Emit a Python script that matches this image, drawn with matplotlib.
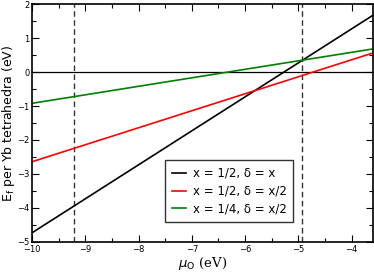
import numpy as np
import matplotlib
matplotlib.use('Agg')
import matplotlib.pyplot as plt
from matplotlib.ticker import MultipleLocator

# mu_O end points and line parameters (slope, intercept)
mu = np.array([-10.0, -3.6])
labels = ['x = 1/2, δ = x', 'x = 1/2, δ = x/2', 'x = 1/4, δ = x/2']
slopes = [1.0, 0.5, 0.25]
intercepts = [5.27, 2.36, 1.58]
colors = ['black', 'red', 'green']
vlines = [-9.22, -4.93]

fig = plt.figure(figsize=(3.74, 2.73), dpi=100)
ax = fig.add_axes([0.086, 0.114, 0.911, 0.871])

ax.axhline(0, color='black', lw=0.9)
for x in vlines:
    ax.axvline(x, color='#333333', lw=1.0, ls=(0, (4, 2.5)))

for s, b, c, l in zip(slopes, intercepts, colors, labels):
    ax.plot(mu, s * mu + b, color=c, lw=1.2, label=l)

ax.set_xlim(-10, -3.6)
ax.set_ylim(-5, 2)
ax.xaxis.set_major_locator(MultipleLocator(1))
ax.xaxis.set_minor_locator(MultipleLocator(0.5))
ax.yaxis.set_major_locator(MultipleLocator(1))
ax.yaxis.set_minor_locator(MultipleLocator(0.5))
ax.tick_params(which='both', direction='in', top=True, right=True, labelsize=6, pad=2)
ax.tick_params(which='major', length=5, width=0.8)
ax.tick_params(which='minor', length=3, width=0.8)
for sp in ax.spines.values():
    sp.set_linewidth(1.2)

ax.set_ylabel(r'E$_{\rm f}$ per Yb tetrahedra (eV)', fontsize=9, labelpad=0)
ax.set_xlabel(r'$\mu_{\rm O}$ (eV)', fontsize=9.5, family='serif', labelpad=1)

leg = ax.legend(loc='lower left', bbox_to_anchor=(0.39, 0.084), fontsize=8.5,
                frameon=True, fancybox=False, edgecolor='black',
                handlelength=1.2, handletextpad=0.6, borderpad=0.55,
                labelspacing=0.4, borderaxespad=0)
leg.get_frame().set_linewidth(1.0)

fig.savefig('out.png', dpi=100)
